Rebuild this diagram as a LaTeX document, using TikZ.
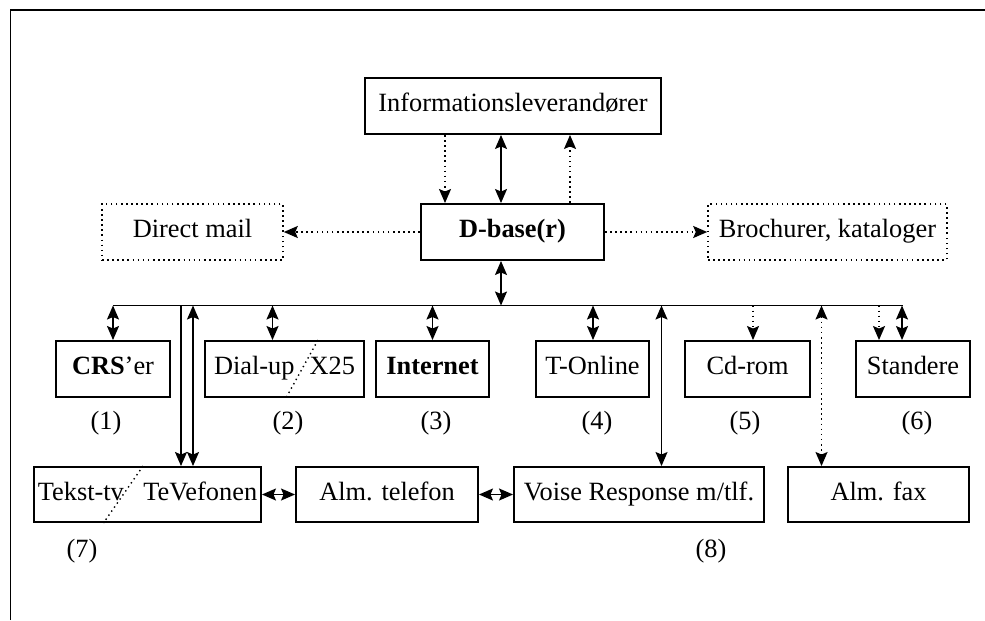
\documentclass[tikz,border=0pt]{standalone}
\usepackage{fontspec}
\setmainfont{Liberation Serif}
\usetikzlibrary{arrows.meta}

\tikzset{
  box/.style={draw, line width=1.1pt, minimum height=1.12cm, inner sep=1pt,
    text height=0.68em, text depth=0pt},
  dotbox/.style={draw, dotted, line width=0.9pt, minimum height=1.12cm,
    text height=0.68em, text depth=0pt},
  link/.style={line width=0.85pt, <->},
  dotlink/.style={line width=0.9pt, dotted, ->},
  num/.style={inner sep=0pt}
}

\begin{document}
\begin{tikzpicture}[>={Stealth[length=2.8mm,width=2.4mm,inset=0.5mm]},
    font=\fontsize{15}{18}\selectfont]
  \useasboundingbox (0,0) rectangle (19.7,12.4);
  \draw[line width=1.1pt] (0.21,0) -- (0.21,12.2) -- (19.7,12.2);

  \node[box, minimum width=5.92cm] (info) at (10.26, 10.28) {Informationsleverandører};
  \node[box, minimum width=3.66cm] (dbase) at (10.25, 7.76) {\textbf{D-base(r)}};
  \node[dotbox, minimum width=3.62cm] (mail) at (3.85, 7.76) {Direct mail};
  \node[dotbox, minimum width=4.78cm] (broch) at (16.55, 7.76) {Brochurer, kataloger};

  \node[box, minimum width=2.28cm] (crs) at (2.26, 5.02) {\textbf{CRS}'er};
  \node[box, minimum width=3.18cm] (dial) at (5.69, 5.02) {Dial-up\hspace{3mm}X25};
  \node[box, minimum width=2.26cm] (internet) at (8.65, 5.02) {\textbf{Internet}};
  \node[box, minimum width=2.26cm] (tonline) at (11.85, 5.02) {T-Online};
  \node[box, minimum width=2.5cm] (cdrom) at (14.95, 5.02) {Cd-rom};
  \node[box, minimum width=2.28cm] (standere) at (18.26, 5.02) {Standere};

  \node[box, minimum width=4.54cm, minimum height=1.1cm, inner xsep=0pt]
    (tekst) at (2.95, 2.51) {Tekst-tv\hspace{3.9mm}TeVefonen};
  \node[box, minimum width=3.64cm, minimum height=1.1cm] (telefon) at (7.74, 2.51) {Alm. telefon};
  \node[box, minimum width=5.0cm, minimum height=1.1cm] (voise) at (12.78, 2.51) {Voise Response m/tlf.};
  \node[box, minimum width=3.62cm, minimum height=1.1cm] (fax) at (17.57, 2.51) {Alm. fax};

  \node[num] (n1) at (2.12, 3.94) {(1)};
  \node[num] (n2) at (5.76, 3.94) {(2)};
  \node[num] (n3) at (8.72, 3.94) {(3)};
  \node[num] (n4) at (11.94, 3.94) {(4)};
  \node[num] (n5) at (14.9, 3.94) {(5)};
  \node[num] (n6) at (18.34, 3.94) {(6)};
  \node[num] (n7) at (1.64, 1.38) {(7)};
  \node[num] (n8) at (14.22, 1.38) {(8)};

  % the bus
  \coordinate (busL) at (2.26, 6.29);
  \coordinate (busR) at (18.06, 6.29);
  \draw[line width=1.1pt] (busL) -- (busR);

  \draw[dotlink] (8.9,0 |- info.south) -- (8.9,0 |- dbase.north);
  \draw[link] (10.02,0 |- info.south) -- (10.02,0 |- dbase.north);
  \draw[dotlink] (11.4,0 |- dbase.north) -- (11.4,0 |- info.south);
  \draw[link] (10.02,0 |- dbase.south) -- (10.02,0 |- busL);
  \draw[dotlink] (dbase) -- (mail);
  \draw[dotlink] (dbase) -- (broch);

  \foreach \x/\n in {2.26/crs, 5.45/dial, 8.65/internet, 11.86/tonline, 18.04/standere}
    \draw[link] (\x,0 |- busL) -- (\x,0 |- \n.north);
  \draw[dotlink] (15.06,0 |- busL) -- (15.06,0 |- cdrom.north);
  \draw[dotlink] (17.58,0 |- busL) -- (17.58,0 |- standere.north);

  \draw[line width=0.85pt, ->] (3.62,0 |- busL) -- (3.62,0 |- tekst.north);
  \draw[link] (3.86,0 |- busL) -- (3.86,0 |- tekst.north);
  \draw[link] (13.23,0 |- busL) -- (13.23,0 |- voise.north);
  \draw[dotlink, <->] (16.43,0 |- busL) -- (16.43,0 |- fax.north);

  \draw[link] (tekst) -- (telefon);
  \draw[link] (telefon) -- (voise);

  % dotted splits
  \draw[dotted, line width=0.8pt] (6.36,0 |- dial.north) -- (5.72,0 |- dial.south);
  \draw[dotted, line width=0.8pt] (2.86,0 |- tekst.north) -- (2.07,0 |- tekst.south);
\end{tikzpicture}
\end{document}
